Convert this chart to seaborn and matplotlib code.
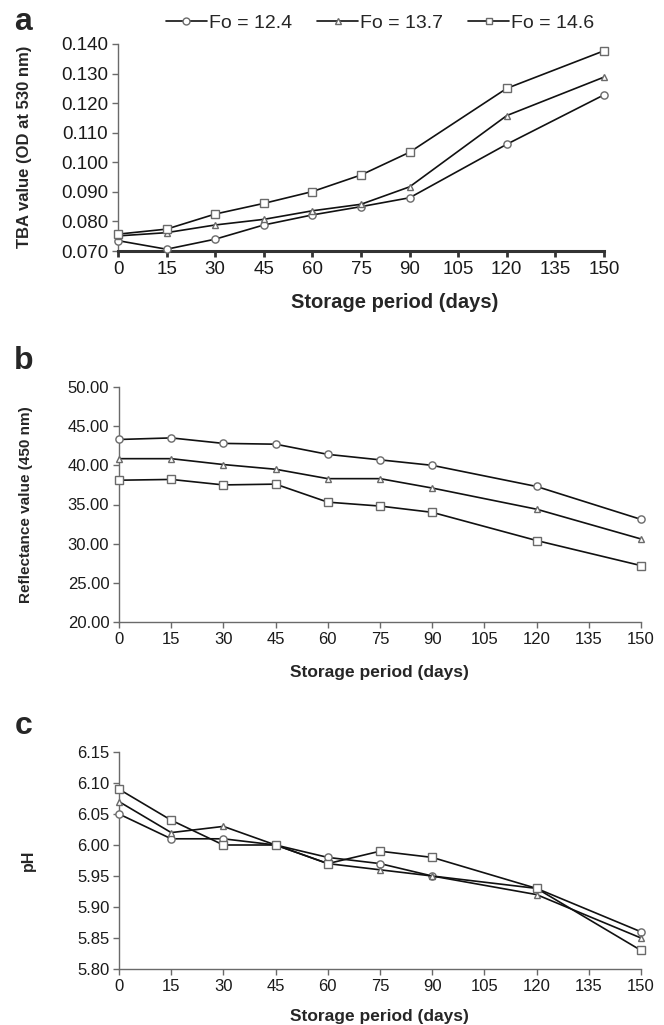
import matplotlib
matplotlib.use("Agg")
import matplotlib.pyplot as plt
import seaborn as sns
import pandas as pd
from matplotlib.lines import Line2D

sns.set_style("white")
plt.rcParams['font.family'] = ['Liberation Sans', 'DejaVu Sans']

days = [0, 15, 30, 45, 60, 75, 90, 120, 150]
series_names = ["Fo = 12.4", "Fo = 13.7", "Fo = 14.6"]
markers = ["o", "^", "s"]

tba_124 = [0.0735, 0.0706, 0.0740, 0.0788, 0.0822, 0.0850, 0.0880, 0.1061, 0.1228]
tba_137 = [0.0751, 0.0762, 0.0788, 0.0807, 0.0836, 0.0858, 0.0917, 0.1158, 0.1288]
tba_146 = [0.0757, 0.0774, 0.0825, 0.0861, 0.0901, 0.0957, 0.1034, 0.1250, 0.1377]

ref_124 = [43.3, 43.5, 42.8, 42.7, 41.4, 40.7, 40.0, 37.3, 33.1]
ref_137 = [40.85, 40.85, 40.1, 39.5, 38.3, 38.3, 37.1, 34.4, 30.6]
ref_146 = [38.1, 38.2, 37.5, 37.6, 35.3, 34.8, 34.0, 30.4, 27.2]

ph_124 = [6.05, 6.01, 6.01, 6.00, 5.98, 5.97, 5.95, 5.93, 5.86]
ph_137 = [6.07, 6.02, 6.03, 6.00, 5.97, 5.96, 5.95, 5.92, 5.85]
ph_146 = [6.09, 6.04, 6.00, 6.00, 5.97, 5.99, 5.98, 5.93, 5.83]

xticks = [0, 15, 30, 45, 60, 75, 90, 105, 120, 135, 150]
tba_ticks = [0.070, 0.080, 0.090, 0.100, 0.110, 0.120, 0.130, 0.140]
ref_ticks = [20, 25, 30, 35, 40, 45, 50]
ph_ticks = [5.80, 5.85, 5.90, 5.95, 6.00, 6.05, 6.10, 6.15]

W, H = 664, 1025
fig = plt.figure(figsize=(W / 100, H / 100), dpi=100)


def box(l, r, t, b):
    return [l / W, 1 - b / H, (r - l) / W, (b - t) / H]


axa = fig.add_axes(box(118, 604, 44, 251))
axb = fig.add_axes(box(119, 641, 387, 622))
axc = fig.add_axes(box(119, 641, 752, 969))

panels = [
    (axa, [tba_124, tba_137, tba_146], tba_ticks, "{:.3f}", 13.5),
    (axb, [ref_124, ref_137, ref_146], ref_ticks, "{:.2f}", 12),
    (axc, [ph_124, ph_137, ph_146], ph_ticks, "{:.2f}", 12),
]

edge = "#6a6a6a"
for ax, vals, yt, fmt, fs in panels:
    for name, v, m in zip(series_names, vals, markers):
        df = pd.DataFrame({"day": days, "val": v})
        sns.lineplot(data=df, x="day", y="val", ax=ax, color="#111111", lw=1.2,
                     marker=m, markersize=5.2 if m != "^" else 5,
                     markerfacecolor="white", markeredgecolor=edge,
                     markeredgewidth=1.0, clip_on=False, zorder=3,
                     label=name, legend=False)
    ax.set_xlim(0, 150)
    ax.set_ylim(yt[0], yt[-1])
    ax.set_xticks(xticks)
    ax.set_xticklabels([str(x) for x in xticks], fontsize=fs)
    ax.set_yticks(yt)
    ax.set_yticklabels([fmt.format(y) for y in yt], fontsize=fs)
    ax.set_xlabel("")
    ax.set_ylabel("")
    sns.despine(ax=ax)
    for s in ["left", "bottom"]:
        ax.spines[s].set_color(edge)
        ax.spines[s].set_linewidth(1.0)
    ax.tick_params(axis="both", direction="out", length=4, width=1.0,
                   color=edge, labelcolor="#1a1a1a", left=True, bottom=True,
                   pad=3)

# panel a has a heavier x-axis
axa.spines["bottom"].set_color("#333333")
axa.spines["bottom"].set_linewidth(2.2)
axa.tick_params(axis="x", width=2, color="#333333", length=4)

# panel letters
fig.text(14 / W, 1 - 30 / H, "a", fontsize=23, fontweight="bold")
fig.text(14 / W, 1 - 369 / H, "b", fontsize=23, fontweight="bold")
fig.text(15 / W, 1 - 734 / H, "c", fontsize=23, fontweight="bold")

# axis labels
fig.text(25 / W, 1 - 147 / H, "TBA value (OD at 530 nm)", rotation=90,
         ha="center", va="center", fontsize=12, fontweight="bold")
fig.text(26 / W, 1 - 505 / H, "Reflectance value (450 nm)", rotation=90,
         ha="center", va="center", fontsize=11, fontweight="bold")
fig.text(28 / W, 1 - 860 / H, "pH", rotation=90,
         ha="center", va="center", fontsize=11.5, fontweight="bold")
fig.text(395 / W, 1 - 302 / H, "Storage period (days)", ha="center",
         va="center", fontsize=14.5, fontweight="bold")
fig.text(379 / W, 1 - 672 / H, "Storage period (days)", ha="center",
         va="center", fontsize=12.5, fontweight="bold")
fig.text(379 / W, 1 - 1016 / H, "Storage period (days)", ha="center",
         va="center", fontsize=12.5, fontweight="bold")

handles = [Line2D([], [], color="#111111", lw=1.2, marker=m, markersize=5,
                  markerfacecolor="white", markeredgecolor=edge,
                  markeredgewidth=1.0) for m in markers]
fig.legend(handles, series_names, loc="center", bbox_to_anchor=(380 / W, 1 - 23 / H),
           ncol=3, frameon=False, fontsize=14, handlelength=2.1,
           handletextpad=0.1, columnspacing=1.3)

fig.savefig("out.png", dpi=100)
